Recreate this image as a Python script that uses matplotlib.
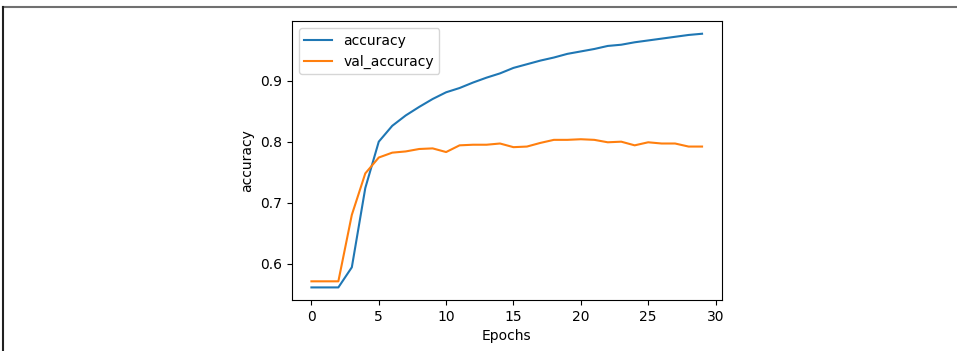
import matplotlib
matplotlib.use("Agg")
import matplotlib.pyplot as plt
from matplotlib.lines import Line2D

epochs = list(range(30))
accuracy = [0.561, 0.561, 0.561, 0.594, 0.724, 0.800, 0.826, 0.843, 0.857, 0.870,
            0.881, 0.888, 0.897, 0.905, 0.912, 0.921, 0.927, 0.933, 0.938, 0.944,
            0.948, 0.952, 0.957, 0.959, 0.963, 0.966, 0.969, 0.972, 0.975, 0.977]
val_accuracy = [0.571, 0.571, 0.571, 0.680, 0.748, 0.774, 0.782, 0.784, 0.788, 0.789,
                0.783, 0.794, 0.795, 0.795, 0.797, 0.791, 0.792, 0.798, 0.803, 0.803,
                0.804, 0.803, 0.799, 0.800, 0.794, 0.799, 0.797, 0.797, 0.792, 0.792]

fig = plt.figure(figsize=(9.57, 3.51), dpi=100)
ax = fig.add_axes([0.305, 0.145, 0.449, 0.795])
ax.plot(epochs, accuracy, label="accuracy", color="#1f77b4", linewidth=1.5)
ax.plot(epochs, val_accuracy, label="val_accuracy", color="#ff7f0e", linewidth=1.5)
ax.set_xlabel("Epochs")
ax.set_ylabel("accuracy")
ax.set_yticks([0.6, 0.7, 0.8, 0.9])
ax.legend(loc="upper left")

# page border around the pasted image
fig.add_artist(Line2D([3 / 957, 1], [1 - 7 / 351, 1 - 7 / 351], color="#707070", linewidth=1.5))
fig.add_artist(Line2D([3 / 957, 3 / 957], [0, 1 - 7 / 351], color="#202020", linewidth=1.5))

fig.savefig("out.png", dpi=100)
